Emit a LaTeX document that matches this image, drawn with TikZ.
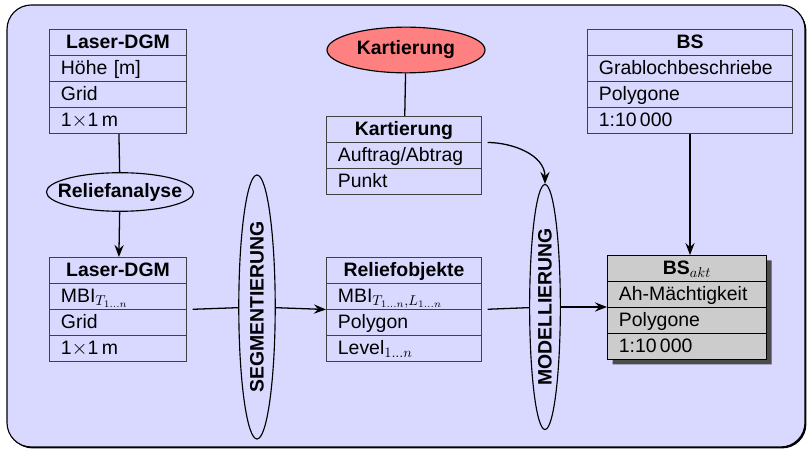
\documentclass[tikz,border=0pt]{standalone}
\usepackage{fontspec}
\setmainfont{Liberation Sans}
\usetikzlibrary{shapes.multipart,shapes.geometric,shadows,arrows.meta}

\newcommand\rs{\rule[-4.5pt]{0pt}{17.5pt}}
\newcommand\hd[1]{\rs\hfill\textbf{#1}\hfill\null}
\newcommand\ovtext[1]{\makebox[0pt]{\textbf{#1}}}

\tikzset{
  tab/.style={rectangle split, rectangle split parts=#1, draw=black!75,
    line width=0.7pt, inner xsep=8pt, inner ysep=0pt, anchor=north west},
  oval/.style={ellipse, draw, line width=0.8pt, inner sep=0pt},
  conn/.style={line width=0.9pt},
}

\begin{document}
\begin{tikzpicture}[x=0.7pt, y=-0.7pt, font=\fontsize{13.6}{16}\selectfont,
  >={Stealth[length=8.5pt,width=6.5pt,inset=3pt]}]
  \useasboundingbox (0,0) rectangle (807,449);
  \draw [fill=blue!15, rounded corners=17pt, line width=0.8pt,
    drop shadow={shadow xshift=1pt, shadow yshift=-1pt, fill=black, opacity=1}]
    (7,5) rectangle (805,447);

  \node [tab=4, text width=79.9pt] (ldgm1) at (49,29)
    {\hd{Laser-DGM}\nodepart{two}\rs Höhe [m]\nodepart{three}\rs Grid\nodepart{four}\rs 1$\times$1\,m};
  \node [tab=4, text width=79.9pt] (ldgm2) at (49,257)
    {\hd{Laser-DGM}\nodepart{two}\rs MBI$_{T_{1\ldots n}}$\nodepart{three}\rs Grid\nodepart{four}\rs 1$\times$1\,m};
  \node [tab=3, text width=92.5pt] (kart) at (326,116)
    {\hd{Kartierung}\nodepart{two}\rs Auftrag/Abtrag\nodepart{three}\rs Punkt};
  \node [tab=4, text width=92.5pt] (relief) at (326,257)
    {\hd{Reliefobjekte}\nodepart{two}\rs MBI$_{T_{1\ldots n},L_{1\ldots n}}$\nodepart{three}\rs Polygon\nodepart{four}\rs Level$_{1\ldots n}$};
  \node [tab=4, text width=127.5pt] (bs) at (587,29)
    {\hd{BS}\nodepart{two}\rs Grablochbeschriebe\nodepart{three}\rs Polygone\nodepart{four}\rs 1:10\,000};
  \node [tab=4, text width=95.3pt, fill=black!20, draw=black,
    drop shadow={shadow xshift=3.5pt, shadow yshift=-3.5pt, fill=black!70, opacity=1}] (bsakt) at (607,255)
    {\hd{BS$_{akt}$}\nodepart{two}\rs Ah-Mächtigkeit\nodepart{three}\rs Polygone\nodepart{four}\rs 1:10\,000};

  \node [oval, fill=red!50, minimum width=110.6pt, minimum height=32pt] (kartell) at (406,50) {\ovtext{Kartierung}};
  \node [oval, minimum width=103pt, minimum height=27pt] (reliefell) at (120,192) {\ovtext{Reliefanalyse}};
  \node [oval, rotate=90, minimum width=184.8pt, minimum height=25.5pt] (seg) at (257,307) {\ovtext{SEGMENTIERUNG}};
  \node [oval, rotate=90, minimum width=171.5pt, minimum height=21.5pt] (model) at (545,307) {\ovtext{MODELLIERUNG}};

  \draw [conn] (ldgm1) -- (reliefell);
  \draw [conn,->] (reliefell) -- (ldgm2);
  \draw [conn] (kartell) -- (kart);
  \draw [conn,->,shorten <=4pt] (kart.one split east) to[out=0,in=90] (model.east);
  \draw [conn,shorten <=4pt] (ldgm2.two split east) -- (seg);
  \draw [conn,->] (seg) -- (relief.two split west);
  \draw [conn,shorten <=4pt] (relief.two split east) -- (model);
  \draw [conn,->] (model) -- (model -| bsakt.west);
  \draw [conn,->] (bs) -- (bs.south |- bsakt.north);
\end{tikzpicture}
\end{document}
